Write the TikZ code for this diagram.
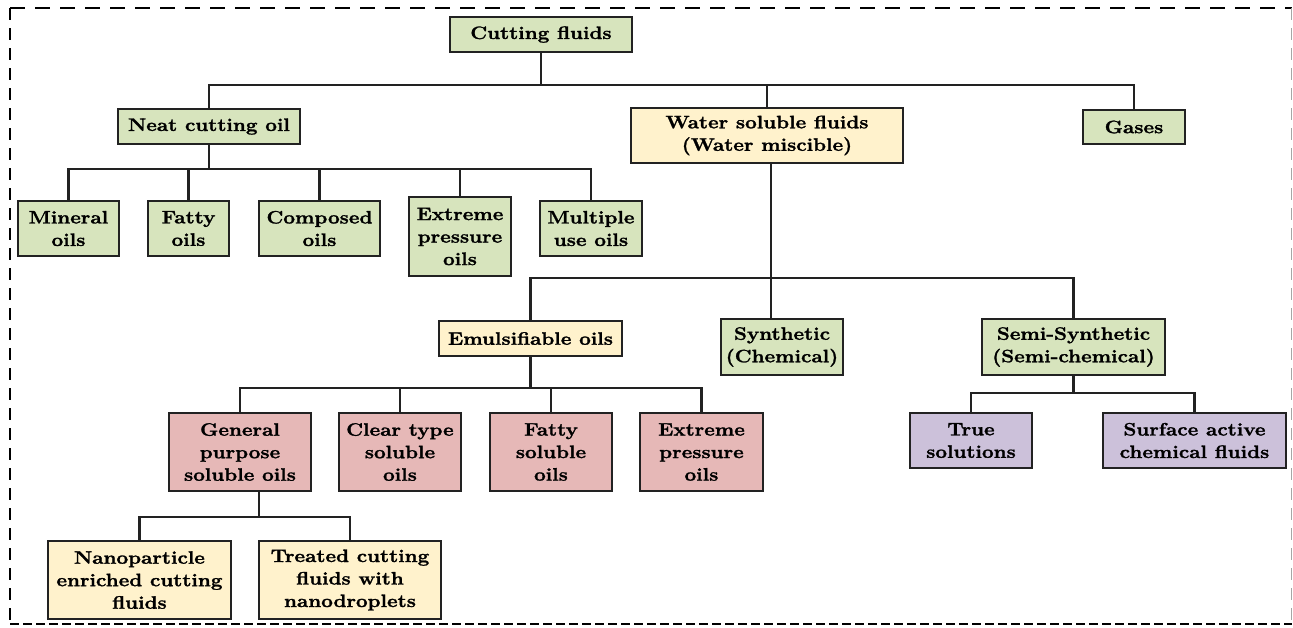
\documentclass[tikz,border=0pt]{standalone}
\usepackage{fontspec}
\setmainfont{Latin Modern Roman}[FakeStretch=1.15, BoldFeatures={FakeBold=1.5}]
\usetikzlibrary{calc}
\definecolor{gfill}{HTML}{D7E4BD}
\definecolor{yfill}{HTML}{FFF2CC}
\definecolor{rfill}{HTML}{E6B8B7}
\definecolor{pfill}{HTML}{CCC1DA}
\definecolor{edge}{HTML}{222222}
\begin{document}
\begin{tikzpicture}[x=1pt,y=-1pt,
  box/.style={draw=edge, line width=2.6pt, inner sep=0pt, align=center,
    font=\fontsize{18}{22.5}\selectfont\bfseries},
  gbox/.style={box, fill=gfill},
  ybox/.style={box, fill=yfill},
  rbox/.style={box, fill=rfill},
  pbox/.style={box, fill=pfill},
  sz/.style 2 args={minimum width=#1pt, minimum height=#2pt},
  conn/.style={draw=edge, line width=2.6pt}]
\useasboundingbox (0,0) rectangle (1293,627);
% dashed frame
\draw[line width=2.2pt, dash pattern=on 15pt off 10pt] (10,8) -- (1292,8);
\draw[line width=2.2pt, dash pattern=on 12pt off 8pt] (10,8) -- (10,624);
\draw[line width=2.6pt, dash pattern=on 9pt off 4pt] (10,624) -- (1292,624);
\draw[line width=1pt, black!35, dash pattern=on 12pt off 8pt] (1291.5,8) -- (1291.5,624);

% nodes
\node[gbox, sz={182}{35}] (cf) at (541,34.5) {Cutting fluids};
\node[gbox, sz={182}{35}] (neat) at (209,126.5) {Neat cutting oil};
\node[ybox, sz={272}{55}] (water) at (767,135.5) {Water soluble fluids\\(Water miscible)};
\node[gbox, sz={102}{34}] (gases) at (1134,127) {Gases};

\node[gbox, sz={101}{55}] (mineral) at (68.5,228.5) {Mineral\\oils};
\node[gbox, sz={81}{55}] (fatty) at (188.5,228.5) {Fatty\\oils};
\node[gbox, sz={121}{55}] (composed) at (319.5,228.5) {Composed\\oils};
\node[gbox, sz={102}{79}] (extreme) at (460,236.5) {Extreme\\pressure\\oils};
\node[gbox, sz={102}{55}] (multiple) at (591,228.5) {Multiple\\use oils};

\node[ybox, sz={183}{35}] (emuls) at (530.5,338.5) {Emulsifiable oils};
\node[gbox, sz={122}{56}] (synth) at (782,347) {Synthetic\\(Chemical)};
\node[gbox, sz={183}{56}] (semi) at (1073.5,347) {Semi-Synthetic\\(Semi-chemical)};

\node[rbox, sz={142}{78}] (general) at (240,452) {General\\purpose\\soluble oils};
\node[rbox, sz={122}{78}] (clear) at (400,452) {Clear type\\soluble\\oils};
\node[rbox, sz={122}{78}] (fattysol) at (551,452) {Fatty\\soluble\\oils};
\node[rbox, sz={123}{78}] (extreme2) at (701.5,452) {Extreme\\pressure\\oils};

\node[pbox, sz={122}{55}] (true) at (971,440.5) {True\\solutions};
\node[pbox, sz={183}{55}] (surface) at (1194.5,440.5) {Surface active\\chemical fluids};

\node[ybox, sz={183}{78}] (nano) at (139.5,580) {Nanoparticle\\enriched cutting\\fluids};
\node[ybox, sz={182}{78}] (treated) at (350,580) {Treated cutting\\fluids with\\nanodroplets};

% bus coordinates
\coordinate (b1) at (541,85);
\coordinate (b2) at (209,169);
\coordinate (b3) at (771,278);
\coordinate (b4) at (530.5,388);
\coordinate (b5) at (1073.5,393);
\coordinate (b6) at (259,517);

% connectors
\draw[conn] (cf.south) -- (b1);
\draw[conn] (neat.north) |- (b1) -| (gases.north);
\draw[conn] (b1) -| (water.north);

\draw[conn] (neat.south) -- (b2);
\draw[conn] (mineral.north) |- (b2) -| (multiple.north);
\draw[conn] (b2) -| (fatty.north);
\draw[conn] (b2) -| (composed.north);
\draw[conn] (b2) -| (extreme.north);

\draw[conn] ($(water.south)+(4,0)$) -- (b3) -- (b3 |- synth.north);
\draw[conn] (emuls.north) |- (b3) -| (semi.north);

\draw[conn] (emuls.south) -- (b4);
\draw[conn] (general.north) |- (b4) -| (extreme2.north);
\draw[conn] (b4) -| (clear.north);
\draw[conn] (b4) -| (fattysol.north);

\draw[conn] (semi.south) -- (b5);
\draw[conn] (true.north) |- (b5) -| (surface.north);

\draw[conn] ($(general.south)+(19,0)$) -- (b6);
\draw[conn] (nano.north) |- (b6) -| (treated.north);
\end{tikzpicture}
\end{document}
